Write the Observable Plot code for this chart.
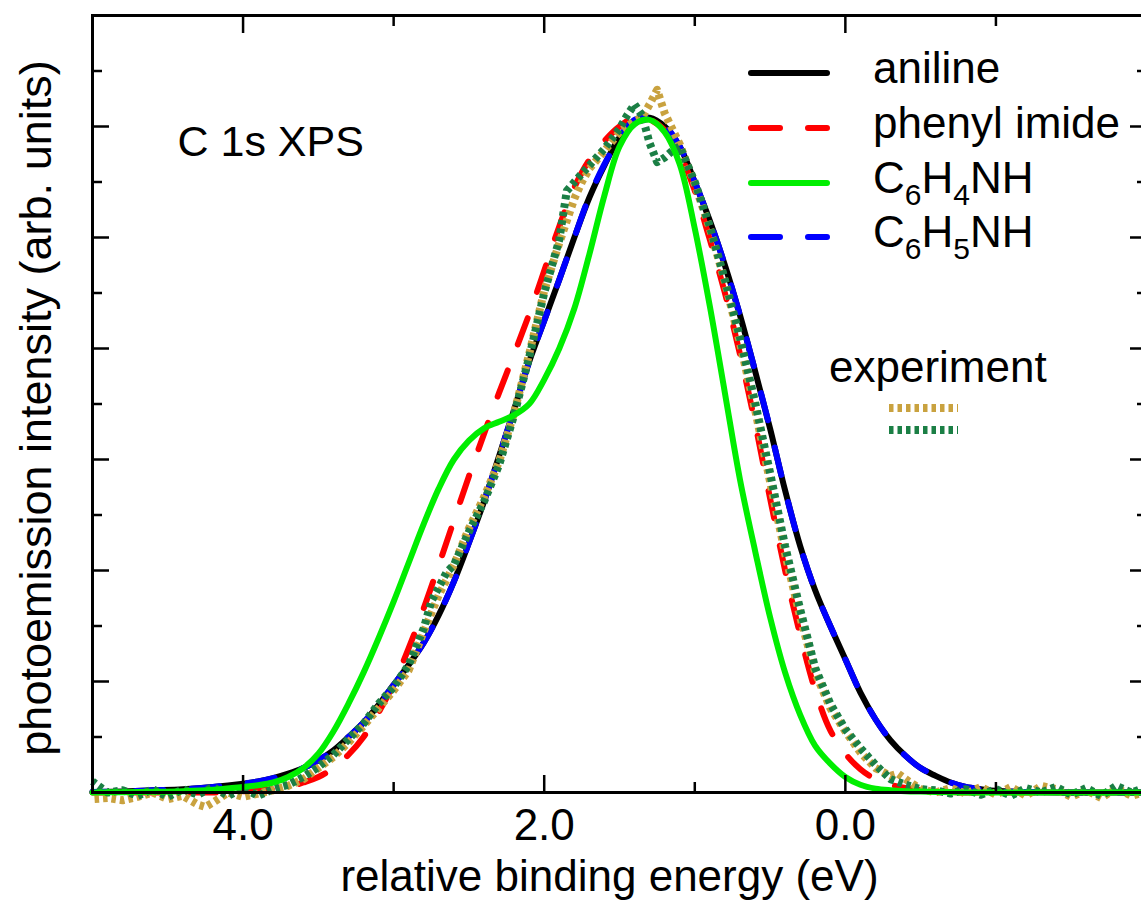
<!DOCTYPE html>
<html>
<head>
<meta charset="utf-8">
<script src="https://cdn.jsdelivr.net/npm/d3@7"></script>
<script src="https://cdn.jsdelivr.net/npm/@observablehq/plot@0.6"></script>
<style>
  html, body { margin: 0; padding: 0; background: #fff; }
  #chart { width: 1141px; height: 901px; overflow: hidden; }
</style>
</head>
<body>
<div id="chart"></div>
<script>
// ---------------- data ----------------
// energy grid of the calculated spectra (eV)
const calcE = [-2.0,-1.5,-1.2,-1.0,-0.9,-0.8,-0.7,-0.6,-0.5,-0.4,-0.3,-0.2,-0.1,0.0,0.1,0.2,0.3,0.4,0.5,0.6,0.7,0.8,0.9,1.0,1.1,1.2,1.3,1.4,1.5,1.6,1.7,1.8,1.9,2.0,2.1,2.2,2.3,2.4,2.5,2.6,2.7,2.8,2.9,3.0,3.1,3.2,3.3,3.4,3.5,3.6,3.7,3.8,3.9,4.0,4.2,4.4,4.6,4.8,5.0];

const anilineI = [0,0,0.005,0.015,0.03,0.05,0.09,0.15,0.22,0.33,0.47,0.66,0.9,1.2,1.5,1.82,2.22,2.72,3.28,3.8,4.3,4.75,5.15,5.5,5.82,6.0,6.08,6.05,5.9,5.65,5.36,5.0,4.62,4.25,3.88,3.45,3.03,2.62,2.25,1.9,1.6,1.35,1.15,0.97,0.79,0.63,0.5,0.38,0.29,0.22,0.17,0.13,0.1,0.08,0.05,0.03,0.02,0.01,0.005];

const phenylImideI = [0,0,0,0,0,0,0.005,0.01,0.02,0.04,0.07,0.12,0.21,0.35,0.56,0.92,1.42,2.0,2.65,3.33,3.95,4.5,4.98,5.42,5.76,5.97,6.06,6.08,6.0,5.87,5.7,5.45,5.1,4.7,4.31,3.95,3.6,3.23,2.85,2.45,2.05,1.66,1.3,0.98,0.72,0.5,0.34,0.22,0.14,0.09,0.05,0.03,0.02,0.01,0,0,0,0,0];

const c6h4nhI = [0,0,0,0,0,0,0.003,0.005,0.008,0.012,0.02,0.035,0.07,0.14,0.26,0.42,0.7,1.08,1.58,2.18,2.82,3.6,4.38,5.08,5.66,5.95,6.06,6.02,5.82,5.38,4.85,4.36,4.0,3.72,3.5,3.4,3.34,3.28,3.17,3.0,2.74,2.42,2.07,1.72,1.39,1.08,0.8,0.55,0.35,0.22,0.14,0.09,0.065,0.05,0.025,0.012,0.006,0.003,0];

const c6h5nhI = [0,0,0.005,0.015,0.03,0.05,0.09,0.15,0.22,0.33,0.47,0.66,0.9,1.2,1.5,1.82,2.22,2.72,3.28,3.8,4.3,4.75,5.15,5.5,5.82,6.01,6.09,6.06,5.9,5.66,5.37,5.0,4.62,4.25,3.88,3.45,3.03,2.62,2.25,1.9,1.6,1.35,1.15,0.97,0.79,0.63,0.5,0.38,0.29,0.22,0.17,0.13,0.1,0.08,0.05,0.03,0.02,0.01,0.005];

// experimental spectra
const expGoldE = [-2.0,-1.9,-1.8,-1.7,-1.6,-1.5,-1.4,-1.3,-1.2,-1.1,-1.0,-0.9,-0.8,-0.7,-0.6,-0.5,-0.4,-0.35,-0.3,-0.2,-0.1,0.0,0.1,0.2,0.3,0.4,0.5,0.6,0.7,0.8,0.9,1.0,1.1,1.2,1.25,1.3,1.35,1.4,1.5,1.6,1.7,1.75,1.8,1.9,2.0,2.1,2.2,2.3,2.4,2.5,2.6,2.7,2.8,2.9,3.0,3.1,3.2,3.3,3.4,3.5,3.6,3.7,3.8,3.9,4.0,4.1,4.2,4.25,4.3,4.4,4.5,4.6,4.7,4.8,4.9,5.0];
const expGoldI = [0.01,-0.03,0.04,-0.05,0.02,-0.04,0.03,0.06,-0.03,0.05,-0.02,0.05,-0.01,0.04,0.0,0.03,0.12,0.17,0.15,0.22,0.36,0.55,0.76,1.08,1.58,2.15,2.8,3.45,4.05,4.6,5.08,5.48,5.84,6.12,6.33,6.2,6.08,6.05,5.95,5.78,5.62,5.5,5.35,4.95,4.52,3.95,3.42,2.98,2.66,2.38,2.05,1.78,1.45,1.1,0.92,0.76,0.6,0.45,0.32,0.22,0.12,0.06,0.02,-0.01,-0.04,0.0,-0.09,-0.13,-0.11,-0.03,-0.06,0.0,-0.04,-0.07,-0.05,-0.06];

const expGreenE = [-2.0,-1.9,-1.8,-1.7,-1.6,-1.5,-1.4,-1.3,-1.2,-1.1,-1.0,-0.9,-0.8,-0.7,-0.6,-0.5,-0.4,-0.3,-0.2,-0.1,0.0,0.1,0.2,0.3,0.4,0.5,0.6,0.7,0.8,0.9,1.0,1.1,1.15,1.2,1.25,1.3,1.35,1.4,1.45,1.5,1.6,1.7,1.8,1.85,1.9,2.0,2.1,2.2,2.3,2.4,2.5,2.6,2.65,2.7,2.75,2.8,2.9,3.0,3.1,3.2,3.3,3.4,3.5,3.6,3.7,3.8,3.9,4.0,4.1,4.2,4.3,4.4,4.5,4.6,4.7,4.8,4.9,5.0];
const expGreenI = [0.05,0.0,0.06,-0.03,0.04,-0.02,0.05,0.0,0.04,-0.03,0.03,-0.02,0.03,-0.01,0.02,0.03,0.07,0.12,0.25,0.4,0.57,0.8,1.12,1.65,2.22,2.88,3.52,4.1,4.62,5.1,5.5,5.82,5.78,5.72,5.68,5.85,6.1,6.2,6.1,5.98,5.8,5.65,5.5,5.42,4.98,4.5,3.92,3.4,2.95,2.62,2.35,2.05,1.98,1.85,1.72,1.48,1.15,0.95,0.8,0.62,0.48,0.34,0.23,0.14,0.07,0.03,-0.03,0.04,-0.03,0.05,-0.02,0.03,-0.04,0.03,-0.03,0.02,0.0,0.1];

// axis ticks
const xMajorTicks = [4, 2, 0];
const xMinorTicks = [3, 1, -1];
const yMajorTicks = [1, 2, 3, 4, 5, 6];
const yMinorTicks = [0.5, 1.5, 2.5, 3.5, 4.5, 5.5, 6.5];

// labels
const legendNames = ["aniline", "phenyl imide", "C6H4NH", "C6H5NH"];
const xLabel = "relative binding energy (eV)";
const yLabel = "photoemission intensity (arb. units)";
const panelLabel = "C 1s XPS";
const expLabel = "experiment";

// ---------------- styles ----------------
const FONT = "'Liberation Sans', Arial, Helvetica, sans-serif";
const colors = { aniline: "#000000", phenyl: "#ff0000", c6h4: "#00ee00", c6h5: "#0000ff", gold: "#c9a23f", green: "#1b7f45" };
const DASH = "28,28";
const DOT = "4.5,4";

const zip = (E, I) => E.map((e, i) => ({ E: e, I: I[i] }));

const lineOpts = (stroke, dash, curve = "catmull-rom") => ({
  x: "E", y: "I", stroke, strokeWidth: dash === DOT ? 8 : 6,
  strokeDasharray: dash, strokeLinecap: dash === DOT ? "butt" : "round",
  strokeLinejoin: "round", curve
});

const tickCommon = { strokeWidth: 2.5, label: null };
const noText = () => "";

const plot = Plot.plot({
  width: 1141,
  height: 901,
  marginLeft: 92,
  marginRight: -5,
  marginTop: 15,
  marginBottom: 109,
  x: { domain: [5, -2] },
  y: { domain: [0, 7] },
  style: { fontFamily: FONT, fontSize: "44px", color: "#000", background: "#fff" },
  marks: [
    // calculated curves
    Plot.line(zip(calcE, anilineI), lineOpts(colors.aniline, null)),
    Plot.line(zip(calcE, phenylImideI), lineOpts(colors.phenyl, DASH)),
    Plot.line(zip(calcE, c6h5nhI), lineOpts(colors.c6h5, DASH)),
    // experiment
    Plot.line(zip(expGoldE, expGoldI), lineOpts(colors.gold, DOT, "linear")),
    Plot.line(zip(expGreenE, expGreenI), lineOpts(colors.green, DOT, "linear")),
    Plot.line(zip(calcE, c6h4nhI), lineOpts(colors.c6h4, null)),
    // axes (inward ticks)
    Plot.axisX(xMajorTicks, { anchor: "bottom", tickSize: -17, tickPadding: 33, tickFormat: d => d.toFixed(1), fontSize: 44, ...tickCommon }),
    Plot.axisX(xMinorTicks, { anchor: "bottom", tickSize: -10, tickFormat: noText, ...tickCommon }),
    Plot.axisX(xMajorTicks, { anchor: "top", tickSize: -17, tickFormat: noText, ...tickCommon }),
    Plot.axisX(xMinorTicks, { anchor: "top", tickSize: -10, tickFormat: noText, ...tickCommon }),
    Plot.axisY(yMajorTicks, { anchor: "left", tickSize: -17, tickFormat: noText, ...tickCommon }),
    Plot.axisY(yMinorTicks, { anchor: "left", tickSize: -10, tickFormat: noText, ...tickCommon }),
    Plot.axisY(yMajorTicks, { anchor: "right", tickSize: -17, tickFormat: noText, ...tickCommon }),
    Plot.axisY(yMinorTicks, { anchor: "right", tickSize: -10, tickFormat: noText, ...tickCommon }),
    Plot.frame({ stroke: "#000", strokeWidth: 3 }),
    // axis titles and panel label
    Plot.text([xLabel], { text: d => d, frameAnchor: "bottom", dx: -10, dy: 98, textAnchor: "middle", lineAnchor: "bottom", fontSize: 44 }),
    Plot.text([yLabel], { text: d => d, frameAnchor: "left", rotate: -90, dx: -42, dy: 4, textAnchor: "middle", lineAnchor: "bottom", fontSize: 45 }),
    Plot.text([panelLabel], { text: d => d, frameAnchor: "top-left", dx: 85, dy: 140, textAnchor: "start", lineAnchor: "bottom", fontSize: 43 })
  ]
});

document.getElementById("chart").appendChild(plot);

// ---------------- legend (inside the plot area) ----------------
const svg = d3.select(plot);
const lg = svg.append("g").attr("font-family", FONT).attr("font-size", 44)
  .attr("fill", "#000").attr("text-anchor", "start");
const legendItems = [
  { name: legendNames[0], color: colors.aniline, dash: null, main: ["aniline"] },
  { name: legendNames[1], color: colors.phenyl, dash: DASH, main: ["phenyl imide"] },
  { name: legendNames[2], color: colors.c6h4, dash: null, main: ["C", "6", "H", "4", "NH"] },
  { name: legendNames[3], color: colors.c6h5, dash: DASH, main: ["C", "6", "H", "5", "NH"] }
];
const rowY = [73, 128, 183, 237];
legendItems.forEach((d, i) => {
  const y = rowY[i];
  lg.append("line").attr("x1", 751).attr("x2", 827).attr("y1", y).attr("y2", y)
    .attr("stroke", d.color).attr("stroke-width", 6).attr("stroke-linecap", "round")
    .attr("stroke-dasharray", d.dash === DASH ? "29,28" : null);
  const t = lg.append("text").attr("x", 873).attr("y", y + 10).attr("text-anchor", "start");
  d.main.forEach((part, k) => {
    const isSub = /^[0-9]$/.test(part);
    t.append("tspan").text(part)
      .attr("font-size", isSub ? 30 : 44)
      .attr("dy", isSub ? 12 : (k > 0 ? -12 : 0));
  });
});
lg.append("text").attr("x", 829).attr("y", 382).attr("text-anchor", "start").text(expLabel);
lg.append("line").attr("x1", 889).attr("x2", 958).attr("y1", 408).attr("y2", 408)
  .attr("stroke", colors.gold).attr("stroke-width", 8).attr("stroke-dasharray", DOT);
lg.append("line").attr("x1", 889).attr("x2", 958).attr("y1", 430).attr("y2", 430)
  .attr("stroke", colors.green).attr("stroke-width", 8).attr("stroke-dasharray", DOT);
</script>
</body>
</html>
